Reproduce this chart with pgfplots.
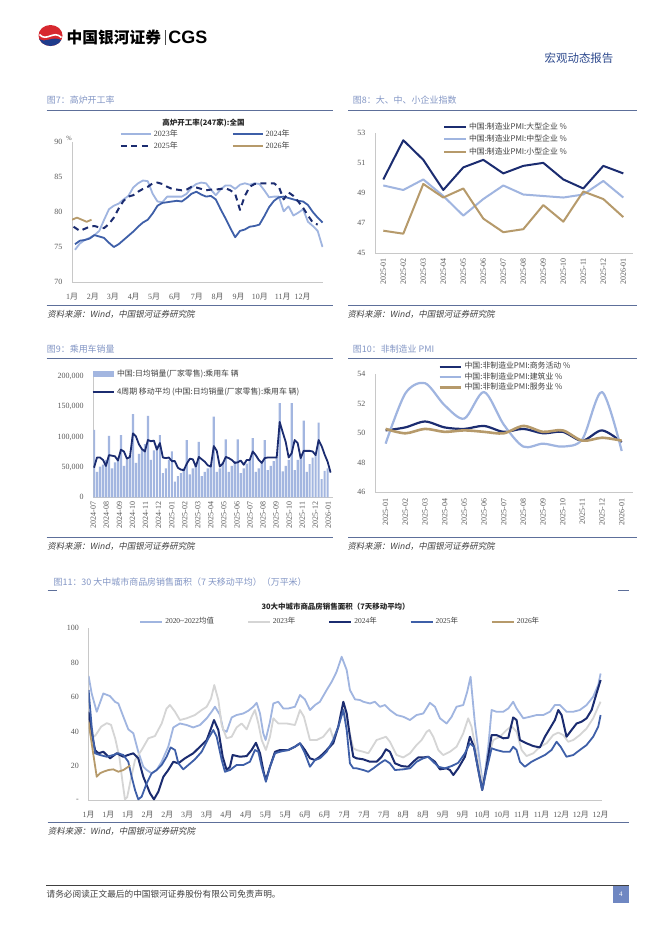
\documentclass[border=0pt]{standalone}
\usepackage{pgfplots}
\pgfplotsset{compat=1.18}
\usepackage{fontspec}
\setmainfont{Liberation Serif}
\newfontfamily\cjk{Noto Sans CJK SC}
\newfontfamily\cjkit[FakeSlant=0.2]{Noto Sans CJK SC}
\newfontfamily\hel{Liberation Sans}
\newcommand\fs[1]{\fontsize{#1}{#1}\selectfont}
\newcommand\yue{{\cjk 月}}
\newcommand\nian{{\cjk 年}}

\definecolor{cNavy}{HTML}{1B2C70}
\definecolor{cMid}{HTML}{3E5FA8}
\definecolor{cLight}{HTML}{A0B5E0}
\definecolor{cTan}{HTML}{B69A6B}
\definecolor{cGrey}{HTML}{D5D5D5}
\definecolor{cBar}{HTML}{A3B6E0}
\definecolor{capBlue}{HTML}{8396C5}
\definecolor{ruleBlue}{HTML}{5D6F9A}
\definecolor{axGray}{HTML}{C8C8C8}
\definecolor{tickGray}{HTML}{595959}
\definecolor{legGray}{HTML}{404040}
\definecolor{hdrBlue}{HTML}{2E4A8E}
\definecolor{pgBlue}{HTML}{6F87C2}
\definecolor{logoRed}{HTML}{D7282F}
\definecolor{logoBlue}{HTML}{1F3C8C}

\pgfplotsset{
  page/.style={
    scale only axis, anchor=south west,
    axis x line*=bottom, axis y line*=left,
    axis line style={draw=axGray, line width=0.6bp, -},
    major tick length=0pt, tick style={draw=none},
    ticklabel style={font=\fs{8}, text=tickGray},
    yticklabel style={anchor=east, inner sep=0pt, xshift=-9.5bp},
    /pgf/number format/assume math mode=true,
    legend cell align=left,
    legend style={draw=none, fill=none, inner sep=0pt, outer sep=0pt, anchor=north west,
      text=legGray, nodes={inner sep=0pt, text height=6bp, text depth=1.5bp},
      /tikz/every odd column/.append style={column sep=2bp}},
    every axis plot/.append style={line join=round, mark=none},
  },
  limg/.style={legend image code/.code={\draw[##1] (0bp,0bp) -- (#1,0bp);}},
  datelab/.style={xticklabel style={yshift=#1, rotate=90, anchor=east, inner sep=0pt}},
  monthlab/.style={xticklabel style={anchor=center, inner sep=0pt, yshift=#1}},
}

\begin{document}
\begin{tikzpicture}
\fill[white] (0,0) rectangle (662bp,-936bp);
\useasboundingbox (0,0) rectangle (662bp,-936bp);

% ---------------- page furniture
\begin{scope}[x=1bp,y=-1bp]
  % logo
  \begin{scope}[shift={(50.5,35.5)}]
    \fill[logoRed] (0,0) ellipse (12 and 10.5);
    \begin{scope}
      \clip (0,0) ellipse (12 and 10.5);
      \fill[logoBlue] (-13,2) .. controls (-5,10) and (2,-2) .. (13,6) -- (13,12) -- (-13,12) -- cycle;
    \end{scope}
    \draw[white, line width=1.6] (-11,-1) .. controls (-4,7) and (3,-6) .. (11,2);
  \end{scope}
  \node[anchor=west, inner sep=0, font=\cjk\bfseries\fs{15.8}] at (66.5,37) {中国银河证券};
  \draw[black!70, line width=0.8] (165.4,30) -- (165.4,45);
  \node[anchor=west, inner sep=0, font=\hel\bfseries\fs{18}] at (168.3,37.8) {CGS};
  \node[inner sep=0, text=hdrBlue, font=\cjk\fs{11.5}] at (579,58.5) {宏观动态报告};

  % captions and rules
  \node[anchor=west, inner sep=0, text=capBlue, font=\cjk\fs{9}] at (46.7,100) {图7：高炉开工率};
  \node[anchor=west, inner sep=0, text=capBlue, font=\cjk\fs{9}] at (352.7,100) {图8：大、中、小企业指数};
  \node[anchor=west, inner sep=0, text=capBlue, font=\cjk\fs{9}] at (46.7,349) {图9：乘用车销量};
  \node[anchor=west, inner sep=0, text=capBlue, font=\cjk\fs{9}] at (352.7,349) {图10：非制造业 PMI};
  \node[anchor=west, inner sep=0, text=capBlue, font=\cjk\fs{9}] at (53.4,581.7) {图11：30 大中城市商品房销售面积（7 天移动平均）（万平米）};
  \draw[ruleBlue, line width=0.8] (46.7,110) -- (333,110) (348,110) -- (637,110);
  \draw[ruleBlue, line width=0.8] (46.7,305.7) -- (333,305.7) (348,305.7) -- (637,305.7);
  \draw[ruleBlue, line width=0.8] (46.7,358) -- (333,358) (348,358) -- (637,358);
  \draw[ruleBlue, line width=0.8] (46.7,537.7) -- (333,537.7) (348,537.7) -- (637,537.7);
  \draw[ruleBlue, line width=0.8] (47.7,590.7) -- (57.2,590.7) (618,590.7) -- (629,590.7);
  \draw[ruleBlue, line width=0.8] (47.7,822.7) -- (629,822.7);
  \foreach \x/\y in {47.3/314.3, 347.3/314.3, 47.3/546, 347.3/546, 47.7/831}
    \node[anchor=west, inner sep=0, text=legGray, font=\cjkit\fs{8.5}] at (\x,\y) {资料来源：Wind，中国银河证券研究院};

  % inner chart titles
  \node[inner sep=0, font=\cjk\bfseries\fs{7.5}, text=black!85] at (203.5,123) {高炉开工率(247家):全国};
  \node[inner sep=0, font=\fs{6.5}, text=tickGray] at (69,138) {\%};
  \node[inner sep=0, font=\cjk\bfseries\fs{7.5}, text=black!85] at (335.6,606.7) {30大中城市商品房销售面积（7天移动平均）};

  % footer
  \draw[black!75, line width=1] (46.4,885) -- (628.7,885);
  \node[anchor=west, inner sep=0, text=legGray, font=\cjk\fs{8.7}] at (46.4,894.3) {请务必阅读正文最后的中国银河证券股份有限公司免责声明。};
  \fill[pgBlue] (613,885.7) rectangle (628.7,903.3);
  \node[inner sep=0, text=white, font=\fs{7}] at (620.8,894.5) {4};
\end{scope}

% ---------------- Fig 7: blast furnace operating rate (weekly)
\begin{axis}[page, at={(72bp,-282bp)}, width=251bp, height=140bp,
  xmin=0.38, xmax=52.1, ymin=70, ymax=90, ytick={70,75,80,85,90},
  xtick={0.38,4.7,8.8,13.1,17.3,21.6,26.1,30.4,34.7,39.1,43.8,47.9},
  xticklabels={1\yue,2\yue,3\yue,4\yue,5\yue,6\yue,7\yue,8\yue,9\yue,10\yue,11\yue,12\yue},
  monthlab=-15bp, limg=30bp,
  legend columns=2,
  legend style={at={(0.1912,1.0818)}, font=\fs{8}, row sep=4.2bp,
    /tikz/every even column/.append style={column sep=54bp}},
]
\addplot[cLight, line width=1.8bp] coordinates {(1,74.6)(2,75.5)(3,76.0)(4,76.3)(5,76.7)(6,77.3)(7,78.9)(8,80.4)(9,80.9)(10,81.2)(11,81.8)(12,82.3)(13,83.5)(14,84.1)(15,84.5)(16,84.4)(17,82.6)(18,81.5)(19,81.4)(20,82.2)(21,82.2)(22,82.2)(23,82.2)(24,82.6)(25,83.5)(26,84.0)(27,84.2)(28,84.1)(29,83.2)(30,82.4)(31,83.2)(32,83.8)(33,83.8)(34,83.3)(35,83.9)(36,84.1)(37,83.9)(38,84.1)(39,84.0)(40,83.1)(41,82.1)(42,82.2)(43,82.2)(44,80.1)(45,80.8)(46,79.5)(47,79.9)(48,80.4)(49,78.6)(50,78.0)(51,77.3)(52,75.0)};
\addlegendentry{2023\nian}
\addplot[cMid, line width=1.8bp] coordinates {(1,75.4)(2,75.9)(3,76.0)(4,76.2)(5,76.7)(6,76.5)(7,76.3)(8,75.6)(9,75.0)(10,75.4)(11,76.0)(12,76.6)(13,77.2)(14,77.9)(15,78.5)(16,78.9)(17,79.8)(18,80.9)(19,81.3)(20,81.4)(21,81.5)(22,81.6)(23,81.5)(24,82.0)(25,82.6)(26,82.9)(27,82.5)(28,82.2)(29,82.3)(30,81.8)(31,80.4)(32,79.1)(33,77.7)(34,76.4)(35,77.3)(36,77.5)(37,77.9)(38,78.0)(39,78.2)(40,79.4)(41,80.7)(42,81.6)(43,82.1)(44,82.2)(45,82.0)(46,81.8)(47,81.6)(48,81.5)(49,81.0)(50,80.0)(51,79.2)(52,78.5)};
\addlegendentry{2024\nian}
\addplot[cNavy, line width=2bp, dash pattern=on 6bp off 4.5bp] coordinates {(0.7,77.9)(2,77.3)(3,77.6)(4,77.9)(5,78.0)(6,77.8)(7,77.7)(8,78.3)(9,79.2)(10,80.5)(11,81.6)(12,82.2)(13,82.4)(14,82.9)(15,83.3)(16,83.6)(17,84.1)(18,84.2)(19,84.0)(20,83.6)(21,83.3)(22,83.2)(23,83.1)(24,83.2)(25,83.6)(26,83.5)(27,83.3)(28,83.1)(29,83.2)(30,83.2)(31,83.3)(32,83.4)(33,83.1)(34,82.6)(35,80.3)(36,82.3)(37,83.6)(38,84.0)(39,84.1)(40,84.1)(41,84.1)(42,84.1)(43,83.6)(44,81.8)(45,82.8)(46,82.3)(47,81.5)(48,80.6)(49,79.5)(50,78.5)(51,78.2)};
\addlegendentry{2025\nian}
\addplot[cTan, line width=1.8bp] coordinates {(0.4,78.9)(1.4,79.2)(2.4,78.9)(3.4,78.6)(4.4,78.9)};
\addlegendentry{2026\nian}
\end{axis}

% ---------------- Fig 8: PMI by enterprise size
\begin{axis}[page, at={(375bp,-253.3bp)}, width=258bp, height=120.6bp,
  xmin=-0.415, xmax=12.485, ymin=45, ymax=53, ytick={45,47,49,51,53},
  xtick={0,...,12},
  xticklabels={2025-01,2025-02,2025-03,2025-04,2025-05,2025-06,2025-07,2025-08,2025-09,2025-10,2025-11,2025-12,2026-01},
  datelab=-4.7bp, limg=22bp,
  legend style={at={(0.2636,1.0784)}, font=\cjk\fs{7.9}, row sep=4.9bp},
]
\addplot[cNavy, line width=2bp] coordinates {(0,49.9)(1,52.5)(2,51.2)(3,49.2)(4,50.7)(5,51.2)(6,50.3)(7,50.8)(8,51.0)(9,49.9)(10,49.3)(11,50.8)(12,50.3)};
\addlegendentry{中国:制造业PMI:大型企业 \%}
\addplot[cLight, line width=2bp] coordinates {(0,49.5)(1,49.2)(2,49.9)(3,48.8)(4,47.5)(5,48.6)(6,49.5)(7,48.9)(8,48.8)(9,48.7)(10,48.9)(11,49.8)(12,48.7)};
\addlegendentry{中国:制造业PMI:中型企业 \%}
\addplot[cTan, line width=2bp] coordinates {(0,46.5)(1,46.3)(2,49.6)(3,48.7)(4,49.3)(5,47.3)(6,46.4)(7,46.6)(8,48.2)(9,47.1)(10,49.1)(11,48.6)(12,47.4)};
\addlegendentry{中国:制造业PMI:小型企业 \%}
\end{axis}

% ---------------- Fig 9: passenger car daily sales (weekly)
\begin{axis}[page, at={(93.3bp,-497.3bp)}, width=240bp, height=120.6bp,
  xmin=-0.23, xmax=79.9, ymin=0, ymax=200000, scaled y ticks=false,
  ytick={0,50000,100000,150000,200000},
  yticklabels={0,{50,000},{100,000},{150,000},{200,000}},
  xtick={-0.23,4.13,8.49,12.85,17.21,21.57,25.93,30.28,34.64,39.0,43.36,47.72,52.08,56.44,60.80,65.16,69.52,73.87,78.23},
  xticklabels={2024-07,2024-08,2024-09,2024-10,2024-11,2024-12,2025-01,2025-02,2025-03,2025-04,2025-05,2025-06,2025-07,2025-08,2025-09,2025-10,2025-11,2025-12,2026-01},
  datelab=-4.4bp, limg=21.6bp,
  legend style={at={(-0.0067,1.051)}, font=\cjk\fs{7.9}, row sep=10.5bp},
]
\addplot[ybar, bar width=2.2bp, fill=cBar, draw=none,
  legend image code/.code={\fill[cBar] (0bp,-3bp) rectangle (21.6bp,3bp);}]
  coordinates {(0,112000)(1,42000)(2,51000)(3,54000)(4,62000)(5,102000)(6,48000)(7,58000)(8,66000)(9,103000)(10,52000)(11,62000)(12,70000)(13,138000)(14,57000)(15,72000)(16,80000)(17,88000)(18,135000)(19,62000)(20,78000)(21,86000)(22,103000)(23,40000)(24,48000)(25,62000)(26,76000)(27,26000)(28,35000)(29,40000)(30,48000)(31,95000)(32,38000)(33,48000)(34,56000)(35,92000)(36,35000)(37,42000)(38,48000)(39,52000)(40,134000)(41,42000)(42,48000)(43,58000)(44,96000)(45,42000)(46,52000)(47,60000)(48,96000)(49,40000)(50,48000)(51,56000)(52,62000)(53,98000)(54,42000)(55,48000)(56,58000)(57,95000)(58,45000)(59,52000)(60,60000)(61,66000)(62,156000)(63,43000)(64,52000)(65,62000)(66,156000)(67,45000)(68,62000)(69,70000)(70,127000)(71,42000)(72,55000)(73,66000)(74,70000)(75,124000)(76,30000)(77,44000)(78,48000)};
\addlegendentry{中国:日均销量(厂家零售):乘用车 辆}
\addplot[cNavy, line width=1.8bp] coordinates {(0,49000)(1,66000)(2,66000)(3,62000)(4,52000)(5,70000)(6,69000)(7,68000)(8,61000)(9,79000)(10,76000)(11,64000)(12,67000)(13,106000)(14,101000)(15,88000)(16,80000)(17,76000)(18,95000)(19,93000)(20,94000)(21,79000)(22,90000)(23,66000)(24,65000)(25,66000)(26,60000)(27,60000)(28,49000)(29,46000)(30,45000)(31,56000)(32,64000)(33,63000)(34,51000)(35,67000)(36,63000)(37,59000)(38,53000)(39,51000)(40,85000)(41,77000)(42,51000)(43,56000)(44,67000)(45,65000)(46,62000)(47,57000)(48,58000)(49,61000)(50,54000)(51,62000)(52,62000)(53,76000)(54,70000)(55,62000)(56,57000)(57,65000)(58,66000)(59,66000)(60,66000)(61,66000)(62,125000)(63,108000)(64,92000)(65,66000)(66,73000)(67,95000)(68,90000)(69,65000)(70,77000)(71,77000)(72,77000)(73,76000)(74,70000)(75,95000)(76,85000)(77,71000)(78,59000)(79,41000)};
\addlegendentry{4周期 移动平均 (中国:日均销量(厂家零售):乘用车 辆)}
\end{axis}

% ---------------- Fig 10: non-manufacturing PMI
\begin{axis}[page, at={(375bp,-492.3bp)}, width=258.3bp, height=118bp,
  xmin=-0.54, xmax=12.59, ymin=46, ymax=54, ytick={46,48,50,52,54},
  xtick={0,...,12},
  xticklabels={2025-01,2025-02,2025-03,2025-04,2025-05,2025-06,2025-07,2025-08,2025-09,2025-10,2025-11,2025-12,2026-01},
  datelab=-6bp, limg=21.7bp,
  legend style={at={(0.245,1.096)}, font=\cjk\fs{7.9}, row sep=2.8bp},
]
\addplot[cNavy, line width=2.2bp, smooth, tension=0.5] coordinates {(0,50.2)(1,50.4)(2,50.8)(3,50.4)(4,50.3)(5,50.5)(6,50.1)(7,50.3)(8,50.0)(9,50.1)(10,49.5)(11,50.2)(12,49.4)};
\addlegendentry{中国:非制造业PMI:商务活动 \%}
\addplot[cLight, line width=2.2bp, smooth, tension=0.5] coordinates {(0,49.3)(1,52.7)(2,53.4)(3,51.9)(4,51.0)(5,52.8)(6,50.6)(7,49.1)(8,49.3)(9,49.1)(10,49.6)(11,52.8)(12,48.8)};
\addlegendentry{中国:非制造业PMI:建筑业 \%}
\addplot[cTan, line width=2.6bp, smooth, tension=0.5] coordinates {(0,50.3)(1,50.0)(2,50.3)(3,50.1)(4,50.2)(5,50.1)(6,50.0)(7,50.5)(8,50.1)(9,50.2)(10,49.5)(11,49.7)(12,49.5)};
\addlegendentry{中国:非制造业PMI:服务业 \%}
\end{axis}

% ---------------- Fig 11: 30-city housing sales (7-day MA)
\begin{axis}[page, at={(88.6bp,-800.7bp)}, width=513.4bp, height=172.4bp,
  xmin=0, xmax=366, ymin=0, ymax=100, ytick={0,20,40,60,80,100},
  yticklabels={-,20,40,60,80,100},
  xtick={0,14.04,28.08,42.12,56.16,70.2,84.24,98.28,112.32,126.36,140.4,154.44,168.48,182.52,196.56,210.6,224.64,238.68,252.72,266.76,280.8,294.84,308.88,322.92,336.96,351,365.04},
  xticklabels={1\yue,1\yue,1\yue,2\yue,2\yue,3\yue,3\yue,4\yue,4\yue,5\yue,5\yue,6\yue,6\yue,7\yue,7\yue,7\yue,8\yue,8\yue,9\yue,9\yue,10\yue,10\yue,11\yue,11\yue,12\yue,12\yue,12\yue},
  monthlab=-14.3bp, limg=22bp,
  legend columns=5,
  legend style={at={(0.0991,1.06)}, font=\fs{7.5},
    /tikz/every even column/.append style={column sep=33bp}},
]
\addplot[cLight, line width=1.8bp] coordinates {(0,72.3)(2.2,62.2)(5.8,51.6)(10.5,62.2)(15.2,60.7)(18.8,57.4)(21.2,56.4)(24.8,48.7)(28.3,41.4)(31.9,39.1)(35.4,28.4)(39,19.7)(41.4,17.8)(45,15.9)(48.5,17.8)(52.1,22.6)(56.8,31.3)(60.4,42.5)(65.1,44.8)(69.9,43.9)(74.6,42.5)(79.4,43.9)(84.2,47.8)(87.7,51.6)(90.1,54.5)(93.7,49.7)(96,41)(98.4,40)(102,48.3)(105.5,49.7)(110.3,50.6)(113.9,52.2)(117.4,54.5)(119.8,56.8)(122.2,50.6)(124.5,39.1)(126.2,35.2)(129.3,45.8)(131.7,56.4)(135.2,57.4)(138.8,53.5)(142.4,53.5)(147.1,54.5)(150.7,61.3)(154.2,58.8)(157.8,52.6)(161.4,55.5)(164.9,57.4)(169.7,64.2)(173.3,69)(176.8,74.8)(180.4,83.5)(184,75.8)(186.3,64.2)(189.9,58.8)(193.5,58.4)(195.8,57.4)(200.6,56.4)(204.1,57.4)(207.7,54.5)(211.3,55.5)(214.8,52.6)(219.6,49.7)(224.3,48.7)(229.1,46.8)(233.8,49.7)(238.6,50.6)(243.3,56.8)(246.9,54.5)(250.5,47.8)(255.2,44.8)(258.8,48.7)(262.3,54.5)(267.1,55.5)(269.9,63.2)(272.3,71.9)(275.4,44.8)(279,21.7)(281.3,8.1)(284.9,31.3)(287.3,52.6)(290.8,51.6)(295.6,51.6)(299.2,53.5)(302.7,57.4)(305.1,53.5)(309.9,47.8)(314.6,48.7)(319.4,49.7)(324.1,49.7)(328.9,51.6)(332.4,55.5)(336,55.5)(340.7,51.6)(345.5,51.6)(350.2,52.6)(355,55.5)(359.7,60.3)(363.3,67.1)(365,73.8)};
\addlegendentry{2020\textasciitilde 2022{\cjk 均值}}
\addplot[cGrey, line width=1.8bp] coordinates {(0,44)(2,36)(5,38)(9,43)(13,45)(16,44)(19,36)(22,25)(24,12)(25.9,0.8)(27.5,2)(29.5,10.1)(33.1,23.6)(37.8,29.4)(42.6,36.2)(47.3,37.5)(52.1,44.8)(55.6,53.5)(58,55.5)(61.6,51.6)(65.1,46.8)(69.9,47.8)(75.8,49.7)(80.6,52.6)(84.2,54.5)(87.3,59.3)(89.6,67.1)(92.5,58.4)(94.9,43.9)(98.4,36.2)(102,37.1)(105.5,42.5)(109.1,44.8)(112.7,41.4)(116.2,48.7)(118.6,52.6)(121,44.8)(123.4,35.2)(126.4,29.4)(129.3,37.1)(131.7,47.8)(135.2,44.8)(141.2,44.8)(147.1,43.9)(150.7,52.6)(153.5,48.7)(157.8,35.2)(162.6,35.2)(167.3,37.1)(172.1,42)(174.4,36.2)(178,42.9)(181.6,53.5)(185.1,42.9)(188.7,30.4)(191,29.4)(195.8,28.4)(199.4,27.5)(201.7,30.4)(205.3,35.2)(208.9,36.2)(212,37.1)(214.8,34.2)(219.6,26.5)(224.3,25.1)(229.1,27.5)(233.8,32.3)(237.4,35.2)(241,40)(242.9,41)(245.7,37.1)(249.3,29.4)(252.8,26.5)(257.6,28.4)(262.3,31.3)(267.1,39.1)(270.6,47.8)(273,42.9)(276.1,29.4)(279,17.8)(281.3,8.1)(284.9,25.5)(288.5,35.2)(293.2,37.1)(298,41)(301.5,43.3)(305.1,40)(308.7,29.4)(312.2,25.9)(317,27.5)(321.7,31.3)(326.5,33.3)(331.2,38.1)(334.8,39.5)(338.4,38.1)(341.9,34.2)(345.5,35.2)(350.2,38.1)(355,41.9)(359.7,47.8)(363.3,54.5)(365,57.4)};
\addlegendentry{2023\nian}
\addplot[cNavy, line width=2bp] coordinates {(0,51.6)(2,40)(4.6,29.4)(7,27.5)(10.5,28.4)(15.3,24.6)(20,27.5)(24.8,25.5)(28,26.5)(31.9,27.5)(35.4,24.6)(39,13.9)(43.8,4.3)(46.6,0.8)(49.7,5.2)(53.3,13.9)(56.8,17.8)(60.4,22.6)(64,21.7)(68.7,24.6)(74.6,27.5)(79.4,31.3)(84.2,35.2)(87.7,42.9)(89.4,46.8)(92.5,41)(95.6,25.5)(98.4,17.8)(100.8,19.7)(102.7,26.5)(107.9,25.5)(112.7,25.9)(116.2,29.4)(119.3,33.6)(122.2,27.5)(125,15.9)(126.4,12)(129.3,19.7)(132.9,28.4)(136.4,29.4)(142.4,29.4)(147.1,31.3)(150.7,33.3)(154.2,29.4)(157.8,24.6)(161.4,23.6)(164.9,25.5)(169.7,29.4)(174.4,33.3)(178,42.9)(181.6,57.4)(184,50.6)(186.3,37.1)(188.7,25.5)(191,24.6)(195.8,24)(200.6,22.6)(205.3,22.6)(208.9,25.5)(212,29.8)(214.8,28.4)(218.4,21.7)(223.1,20.1)(227.9,19.7)(231.4,22.6)(235,25.1)(238.6,25.1)(242.1,25.5)(246.9,22.6)(250.5,18.2)(255.2,18.8)(257.6,17.8)(260,14.9)(263.5,18.8)(268.3,25.5)(271.8,37.1)(274.7,31.3)(277.8,17.8)(280.6,6.2)(283.7,19.7)(287.3,38.1)(290.8,38.1)(295.6,36.2)(299.2,36.5)(302.7,48.3)(305.1,46.8)(307.5,35.2)(312.2,33.3)(317,31.7)(321.7,30.9)(325.3,37.1)(328.9,42)(332.4,46.8)(334.8,52.6)(337.2,49.7)(340.7,37.1)(344.3,41)(347.9,44.8)(351.4,45.8)(355,47.8)(358.6,52.6)(362.1,62.2)(365,70)};
\addlegendentry{2024\nian}
\addplot[cMid, line width=1.8bp] coordinates {(0,64.2)(2.2,42.9)(4.6,27.5)(8.1,26.5)(12.9,25.5)(17.6,26.5)(21.2,27.5)(24.8,26.5)(28.3,22.6)(30.7,13.9)(33.1,6.2)(35.4,0.8)(37.8,2.3)(41.4,10.1)(45,15.9)(48.5,17.8)(52.1,20.7)(55.6,25.5)(58.5,30.9)(61.6,29.4)(64,21.7)(67.5,18.2)(71.1,20.7)(75.8,24)(80.6,28.4)(85.4,36.2)(88.9,41)(91.3,37.1)(94.9,23.6)(97.2,16.8)(100.8,17.8)(105.5,20.7)(110.3,20.7)(115,22.6)(118.6,29.4)(121,28.4)(123.4,19.7)(126.4,11)(129.3,19.7)(132.9,27.5)(136.4,28.4)(142.4,29.4)(147.1,31.3)(150.7,33.3)(154.2,27.5)(157.8,19.7)(161.4,23.6)(164.9,24.6)(169.7,28.4)(174.4,35.2)(178,42.9)(181.6,52.6)(184,41)(186.3,21.7)(188.7,18.8)(191,18.8)(195.8,17.8)(199.4,16.8)(203,18.8)(207.7,21.7)(211.3,23.6)(214.8,21.7)(218.4,17.8)(224.3,18.2)(229.1,18.8)(233.8,22.6)(238.6,24.6)(242.1,25.5)(245.7,22.6)(249.3,19.7)(254,18.8)(258.8,20.1)(263.5,22)(268.3,27.5)(271.8,33.3)(274.7,31.3)(277.8,17.8)(280.6,6.2)(283.7,17.8)(287.3,30.4)(290.8,29.4)(295.6,28.4)(300.3,28.4)(302.7,31.3)(305.1,29.4)(307.5,22.6)(311,19.7)(315.8,22.6)(320.5,24.6)(325.3,26.5)(330,29.4)(333.6,34.2)(336.5,31.3)(340.7,25.5)(345.5,26.5)(350.2,29.4)(355,32.3)(359.7,37.1)(363.3,42.9)(365,49.7)};
\addlegendentry{2025\nian}
\addplot[cTan, line width=1.8bp] coordinates {(0,45.8)(2.9,29.4)(5.8,13.9)(8.1,15.9)(10.5,16.8)(14.1,17.8)(17.6,18.2)(21.2,16.8)(24.8,17.8)(28.3,19.7)(29.5,20.7)};
\addlegendentry{2026\nian}
\end{axis}
\end{tikzpicture}
\end{document}
